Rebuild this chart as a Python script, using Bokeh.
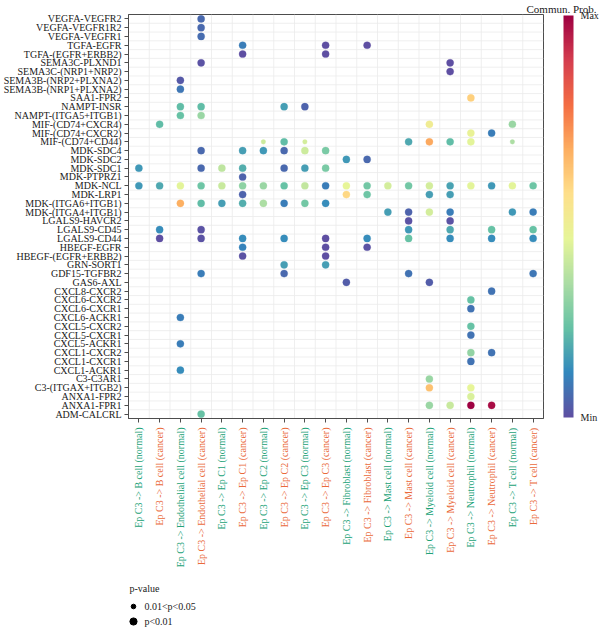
import numpy as np
from bokeh.plotting import figure
from bokeh.models import (ColumnDataSource, LinearColorMapper, ColorBar, FixedTicker,
                          Span, Range1d, FactorRange)
from bokeh.layouts import column
from bokeh.embed import file_html
from bokeh.resources import INLINE
from bokeh.core.properties import value

# ---------------------------------------------------------------- data
source_cell = "Ep C3"
receivers = [
    "B cell (normal)", "B cell (cancer)",
    "Endothelial cell (normal)", "Endothelial cell (cancer)",
    "Ep C1 (normal)", "Ep C1 (cancer)",
    "Ep C2 (normal)", "Ep C2 (cancer)",
    "Ep C3 (normal)", "Ep C3 (cancer)",
    "Fibroblast (normal)", "Fibroblast (cancer)",
    "Mast cell (normal)", "Mast cell (cancer)",
    "Myeloid cell (normal)", "Myeloid cell (cancer)",
    "Neutrophil (normal)", "Neutrophil (cancer)",
    "T cell (normal)", "T cell (cancer)",
]

# ligand-receptor pairs, listed top to bottom
pairs = [
    "VEGFA-VEGFR2", "VEGFA-VEGFR1R2", "VEGFA-VEGFR1", "TGFA-EGFR",
    "TGFA-(EGFR+ERBB2)", "SEMA3C-PLXND1", "SEMA3C-(NRP1+NRP2)",
    "SEMA3B-(NRP2+PLXNA2)", "SEMA3B-(NRP1+PLXNA2)", "SAA1-FPR2", "NAMPT-INSR",
    "NAMPT-(ITGA5+ITGB1)", "MIF-(CD74+CXCR4)", "MIF-(CD74+CXCR2)",
    "MIF-(CD74+CD44)", "MDK-SDC4", "MDK-SDC2", "MDK-SDC1", "MDK-PTPRZ1",
    "MDK-NCL", "MDK-LRP1", "MDK-(ITGA6+ITGB1)", "MDK-(ITGA4+ITGB1)",
    "LGALS9-HAVCR2", "LGALS9-CD45", "LGALS9-CD44", "HBEGF-EGFR",
    "HBEGF-(EGFR+ERBB2)", "GRN-SORT1", "GDF15-TGFBR2", "GAS6-AXL",
    "CXCL8-CXCR2", "CXCL6-CXCR2", "CXCL6-CXCR1", "CXCL6-ACKR1", "CXCL5-CXCR2",
    "CXCL5-CXCR1", "CXCL5-ACKR1", "CXCL1-CXCR2", "CXCL1-CXCR1", "CXCL1-ACKR1",
    "C3-C3AR1", "C3-(ITGAX+ITGB2)", "ANXA1-FPR2", "ANXA1-FPR1", "ADM-CALCRL",
]

sig_levels = ["0.01<p<0.05", "p<0.01"]

# one entry per significant interaction: receiver, pair, communication prob., p-value class
pt_recv, pt_pair, pt_prob, pt_sig = [], [], [], []

def add(recv, items):
    for pair, prob, sig in items:
        pt_recv.append(recv)
        pt_pair.append(pair)
        pt_prob.append(prob)
        pt_sig.append(sig)

S, L = "0.01<p<0.05", "p<0.01"

add("B cell (normal)", [("MDK-SDC1", 0.16, L), ("MDK-NCL", 0.16, L)])
add("B cell (cancer)", [("MIF-(CD74+CXCR4)", 0.23, L), ("MDK-NCL", 0.19, L),
                        ("LGALS9-CD45", 0.14, L), ("LGALS9-CD44", 0.02, L)])
add("Endothelial cell (normal)", [
    ("SEMA3B-(NRP2+PLXNA2)", 0.04, L), ("SEMA3B-(NRP1+PLXNA2)", 0.10, L),
    ("NAMPT-INSR", 0.23, L), ("NAMPT-(ITGA5+ITGB1)", 0.24, L), ("MDK-NCL", 0.45, L),
    ("MDK-(ITGA6+ITGB1)", 0.67, L), ("CXCL6-ACKR1", 0.11, L),
    ("CXCL5-ACKR1", 0.11, L), ("CXCL1-ACKR1", 0.14, L)])
add("Endothelial cell (cancer)", [
    ("VEGFA-VEGFR2", 0.07, L), ("VEGFA-VEGFR1R2", 0.07, L), ("VEGFA-VEGFR1", 0.08, L),
    ("SEMA3C-PLXND1", 0.03, L), ("NAMPT-INSR", 0.23, L), ("NAMPT-(ITGA5+ITGB1)", 0.32, L),
    ("MDK-SDC4", 0.07, L), ("MDK-SDC1", 0.07, L), ("MDK-NCL", 0.25, L),
    ("MDK-(ITGA6+ITGB1)", 0.23, L), ("LGALS9-CD45", 0.03, L), ("LGALS9-CD44", 0.03, L),
    ("GDF15-TGFBR2", 0.11, L), ("ADM-CALCRL", 0.24, L)])
add("Ep C1 (normal)", [("MDK-SDC1", 0.38, L), ("MDK-NCL", 0.40, L),
                       ("MDK-(ITGA6+ITGB1)", 0.17, L)])
add("Ep C1 (cancer)", [
    ("TGFA-EGFR", 0.11, L), ("TGFA-(EGFR+ERBB2)", 0.02, L), ("MDK-SDC4", 0.17, L),
    ("MDK-SDC1", 0.20, L), ("MDK-PTPRZ1", 0.06, L), ("MDK-NCL", 0.30, L),
    ("MDK-LRP1", 0.06, L), ("MDK-(ITGA6+ITGB1)", 0.20, L), ("LGALS9-CD44", 0.14, L),
    ("HBEGF-EGFR", 0.12, L), ("HBEGF-(EGFR+ERBB2)", 0.03, L)])
add("Ep C2 (normal)", [("MIF-(CD74+CD44)", 0.41, S), ("MDK-SDC4", 0.16, L),
                       ("MDK-NCL", 0.32, L), ("MDK-(ITGA6+ITGB1)", 0.35, L)])
add("Ep C2 (cancer)", [
    ("NAMPT-INSR", 0.17, L), ("MIF-(CD74+CD44)", 0.23, L), ("MDK-SDC4", 0.07, L),
    ("MDK-SDC1", 0.07, L), ("MDK-NCL", 0.24, L), ("MDK-(ITGA6+ITGB1)", 0.11, L),
    ("LGALS9-CD44", 0.14, L), ("GRN-SORT1", 0.17, L), ("GDF15-TGFBR2", 0.07, L)])
add("Ep C3 (normal)", [
    ("NAMPT-INSR", 0.06, L), ("MIF-(CD74+CD44)", 0.42, S), ("MDK-SDC4", 0.41, L),
    ("MDK-SDC1", 0.17, L), ("MDK-NCL", 0.39, L), ("MDK-(ITGA6+ITGB1)", 0.26, L)])
add("Ep C3 (cancer)", [
    ("TGFA-EGFR", 0.02, L), ("TGFA-(EGFR+ERBB2)", 0.02, L), ("MDK-SDC4", 0.27, L),
    ("MDK-SDC1", 0.27, L), ("MDK-NCL", 0.11, L), ("MDK-(ITGA6+ITGB1)", 0.14, L),
    ("LGALS9-CD44", 0.02, L), ("HBEGF-EGFR", 0.02, L), ("HBEGF-(EGFR+ERBB2)", 0.02, L),
    ("GRN-SORT1", 0.17, L)])
add("Fibroblast (normal)", [("MDK-SDC2", 0.16, L), ("MDK-NCL", 0.46, L),
                            ("MDK-LRP1", 0.58, L), ("GAS6-AXL", 0.05, L)])
add("Fibroblast (cancer)", [
    ("TGFA-EGFR", 0.02, L), ("MDK-SDC2", 0.07, L), ("MDK-NCL", 0.26, L),
    ("MDK-LRP1", 0.25, L), ("LGALS9-CD44", 0.14, L), ("HBEGF-EGFR", 0.03, L)])
add("Mast cell (normal)", [("MDK-NCL", 0.42, L), ("MDK-(ITGA4+ITGB1)", 0.17, L)])
add("Mast cell (cancer)", [
    ("MIF-(CD74+CD44)", 0.19, L), ("MDK-NCL", 0.26, L), ("MDK-(ITGA4+ITGB1)", 0.06, L),
    ("LGALS9-HAVCR2", 0.03, L), ("LGALS9-CD45", 0.16, L), ("LGALS9-CD44", 0.24, L),
    ("GDF15-TGFBR2", 0.09, L)])
add("Myeloid cell (normal)", [
    ("MIF-(CD74+CXCR4)", 0.50, L), ("MIF-(CD74+CD44)", 0.68, L), ("MDK-NCL", 0.42, L),
    ("MDK-LRP1", 0.17, L), ("MDK-(ITGA4+ITGB1)", 0.42, L), ("GAS6-AXL", 0.05, L),
    ("C3-C3AR1", 0.32, L), ("C3-(ITGAX+ITGB2)", 0.63, L), ("ANXA1-FPR1", 0.32, L)])
add("Myeloid cell (cancer)", [
    ("SEMA3C-PLXND1", 0.02, L), ("SEMA3C-(NRP1+NRP2)", 0.02, L),
    ("MIF-(CD74+CD44)", 0.23, L), ("MDK-NCL", 0.18, L), ("MDK-LRP1", 0.17, L),
    ("MDK-(ITGA4+ITGB1)", 0.11, L), ("LGALS9-HAVCR2", 0.03, L), ("LGALS9-CD45", 0.19, L),
    ("LGALS9-CD44", 0.14, L), ("ANXA1-FPR1", 0.40, L)])
add("Neutrophil (normal)", [
    ("SAA1-FPR2", 0.60, L), ("MIF-(CD74+CXCR2)", 0.47, L), ("MIF-(CD74+CD44)", 0.45, L),
    ("MDK-NCL", 0.45, L), ("CXCL6-CXCR2", 0.24, L), ("CXCL6-CXCR1", 0.09, L),
    ("CXCL5-CXCR2", 0.24, L), ("CXCL5-CXCR1", 0.09, L), ("CXCL1-CXCR2", 0.31, L),
    ("CXCL1-CXCR1", 0.09, L), ("C3-(ITGAX+ITGB2)", 0.46, L), ("ANXA1-FPR2", 0.43, L),
    ("ANXA1-FPR1", 1.00, L)])
add("Neutrophil (cancer)", [
    ("MIF-(CD74+CXCR2)", 0.11, L), ("MDK-NCL", 0.16, L), ("LGALS9-CD45", 0.24, L),
    ("LGALS9-CD44", 0.14, L), ("CXCL8-CXCR2", 0.09, L), ("CXCL1-CXCR2", 0.09, L),
    ("ANXA1-FPR1", 0.98, L)])
add("T cell (normal)", [("MIF-(CD74+CXCR4)", 0.32, L), ("MIF-(CD74+CD44)", 0.35, S),
                        ("MDK-NCL", 0.45, L), ("MDK-(ITGA4+ITGB1)", 0.16, L)])
add("T cell (cancer)", [
    ("MDK-NCL", 0.25, L), ("MDK-(ITGA4+ITGB1)", 0.11, L), ("LGALS9-CD45", 0.24, L),
    ("LGALS9-CD44", 0.14, L), ("GDF15-TGFBR2", 0.10, L)])

# ---------------------------------------------------------------- styling
FONT = "Liberation Serif"
TEXT = "#1a1a1a"
GREEN, ORANGE = "#22a277", "#ea6a3b"
FRAME = "#4d4d4d"
GRID = "#ebebeb"
SIZE = {"0.01<p<0.05": 4.6, "p<0.01": 7.2}
BORDER_L, BORDER_R = 127, 57

targets = [f"{source_cell} -> {r}" for r in receivers]
col_px = (600 - BORDER_L - BORDER_R) / len(targets)   # pixel width of one column


def px(x_pixel):
    """Horizontal canvas pixel -> synthetic coordinate on the categorical x range."""
    return (x_pixel - BORDER_L) / col_px


def ramp(colors, n):
    rgb = np.array([[int(c[i:i + 2], 16) for i in (1, 3, 5)] for c in colors], float)
    knots = np.linspace(0, 1, len(colors))
    t = np.linspace(0, 1, n)
    out = np.stack([np.interp(t, knots, rgb[:, j]) for j in range(3)], axis=1)
    return ["#%02x%02x%02x" % tuple(int(round(v)) for v in row) for row in out]


spectral_rev = ["#5E4FA2", "#3288BD", "#66C2A5", "#ABDDA4", "#E6F598",
                "#FEE08B", "#FDAE61", "#F46D43", "#D53E4F", "#9E0142"]
mapper = LinearColorMapper(palette=ramp(spectral_rev, 256),
                           low=min(pt_prob), high=max(pt_prob))

src = ColumnDataSource(dict(
    target=[f"{source_cell} -> {r}" for r in pt_recv],
    pair=pt_pair,
    prob=pt_prob,
    size=[SIZE[s] for s in pt_sig],
))

# ---------------------------------------------------------------- bubble panel
x_range = FactorRange(*targets)
p = figure(width=600, height=426,
           x_range=x_range, y_range=FactorRange(*pairs[::-1]),
           output_backend="svg", toolbar_location=None,
           min_border_left=BORDER_L, min_border_right=BORDER_R,
           min_border_top=14, min_border_bottom=8)

p.title.text = "Commun. Prob."
p.title.align = "right"
p.title.offset = -53
p.title.standoff = 0
p.title.text_font = FONT
p.title.text_font_size = "11px"
p.title.text_font_style = "normal"
p.title.text_color = TEXT

p.xgrid.visible = False
p.ygrid.visible = False
p.outline_line_color = FRAME
p.outline_line_width = 1

# grid lines between categories
for i in range(1, len(targets)):
    p.add_layout(Span(location=i, dimension="height", line_color=GRID,
                      line_width=0.8, level="underlay"))
for i in range(1, len(pairs)):
    p.add_layout(Span(location=i, dimension="width", line_color=GRID,
                      line_width=0.8, level="underlay"))

p.scatter(x="target", y="pair", size="size", source=src,
          fill_color={"field": "prob", "transform": mapper},
          line_color={"field": "prob", "transform": mapper}, line_width=0.3)

for ax in (p.xaxis[0], p.yaxis[0]):
    ax.axis_line_color = FRAME
    ax.major_tick_line_color = FRAME
    ax.major_tick_out = 4
    ax.major_tick_in = 0
    ax.minor_tick_line_color = None

p.yaxis.major_label_text_font = FONT
p.yaxis.major_label_text_font_size = "10px"
p.yaxis.major_label_text_color = TEXT
p.yaxis.major_label_standoff = 3

# the x tick labels are coloured per condition and drawn in the panel below
p.xaxis.major_label_text_font_size = "0px"
p.xaxis.major_label_text_color = None
p.xaxis.major_label_standoff = 0

# colour bar
lo, hi = mapper.low, mapper.high
cbar = ColorBar(color_mapper=mapper, width=10, height=402, location=(435, 1),
                padding=0, margin=0, label_standoff=7,
                ticker=FixedTicker(ticks=[lo, hi]),
                major_label_overrides={lo: "Min", hi: "Max"},
                major_tick_line_color=None, bar_line_color=None,
                border_line_color=None, background_fill_alpha=0,
                major_label_text_font=FONT, major_label_text_font_size="10px",
                major_label_text_color=TEXT)
p.add_layout(cbar)

# ---------------------------------------------------------------- labels + size legend
QH = 202
q = figure(width=600, height=QH, x_range=x_range, y_range=Range1d(QH, 0),
           output_backend="svg", toolbar_location=None,
           x_axis_location=None, y_axis_location=None,
           min_border_left=BORDER_L, min_border_right=BORDER_R,
           min_border_top=0, min_border_bottom=0)
q.xgrid.visible = False
q.ygrid.visible = False
q.outline_line_color = None

lab_src = ColumnDataSource(dict(
    target=targets,
    text=targets,
    color=[GREEN if r.endswith("(normal)") else ORANGE for r in receivers],
))
q.text(x="target", y=1, text="text", source=lab_src,
       angle=90, angle_units="deg", text_align="right", text_baseline="middle",
       text_color="color", text_font=value(FONT), text_font_size="10px")

leg_y = [180, 195]
q.text(x=[px(128)], y=[162], text=["p-value"], text_font=value(FONT),
       text_font_size="10px", text_baseline="middle", text_color=TEXT)
q.scatter(x=[px(132)] * len(sig_levels), y=leg_y,
          size=[SIZE[s] for s in sig_levels], color="black")
q.text(x=[px(143)] * len(sig_levels), y=leg_y, text=sig_levels,
       text_font=value(FONT), text_font_size="10px", text_baseline="middle",
       text_color=TEXT)

layout = column(p, q, spacing=0)
open("out.html", "w").write(file_html(layout, INLINE))
